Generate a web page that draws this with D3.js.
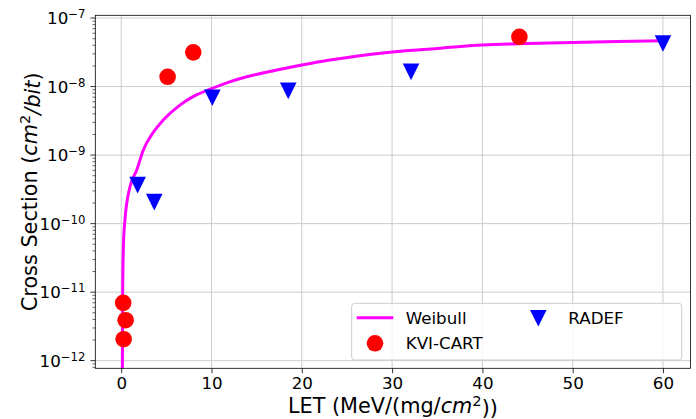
<!DOCTYPE html>
<html>
<head>
<meta charset="utf-8">
<script src="https://cdn.jsdelivr.net/npm/d3@7"></script>
<style>
  body { margin: 0; background: #fff; }
  text { font-family: "DejaVu Sans", sans-serif; fill: #000; }
</style>
</head>
<body>
<div id="graph"></div>
<script>

// KVI-CART measurements (LET, cross section)
var kviLet = [0.22, 0.49, 0.27, 5.14, 7.98, 44.1];
var kviXs = [6.98e-12, 3.9e-12, 2.06e-12, 1.39e-8, 3.16e-8, 5.33e-8];

// RADEF measurements
var radefLet = [1.82, 3.66, 10.09, 18.5, 32.1, 60];
var radefXs = [3.65e-10, 2.06e-10, 6.87e-9, 8.65e-9, 1.64e-8, 4.26e-8];

// weibull fit, points
var weibullLet = [0.13, 0.16, 0.25, 0.41, 0.96, 1.71, 2.44, 3.5, 4.65, 6.5, 8, 10, 12, 13.9,
                  17, 20, 23.1, 26, 30, 35, 40, 45, 50, 55, 60];
var weibullXs = [5e-13, 1e-11, 5e-11, 1.12e-10, 3.4e-10, 6.0e-10, 1.18e-9, 2.1e-9, 3.24e-9, 5.37e-9,
                 7.2e-9, 9.3e-9, 1.17e-8, 1.39e-8, 1.72e-8, 2.06e-8, 2.44e-8, 2.78e-8, 3.2e-8,
                 3.6e-8, 4.03e-8, 4.25e-8, 4.41e-8, 4.55e-8, 4.68e-8];

// tick values
var xTicks = [0, 10, 20, 30, 40, 50, 60];
var yExps = [-12, -11, -10, -9, -8, -7];

function initChart() {

    var svg = d3.select("#graph").append("svg")
        .attr("width", 696)
        .attr("height", 419);

    var margin = {top: 15.3, right: 5.5, bottom: 50.7, left: 95.3},
        width = 696 - margin.left - margin.right,
        height = 419 - margin.top - margin.bottom;

    var g = svg.append("g")
        .attr("transform", "translate(" + margin.left + "," + margin.top + ")");

    // scales
    var x = d3.scaleLinear().domain([-2.87, 63.05]).range([0, width]),
        y = d3.scaleLog().domain([Math.pow(10, -12.111), Math.pow(10, -6.96)]).range([height, 0]);

    // clip for the curve
    svg.append("defs").append("clipPath").attr("id", "clip")
        .append("rect").attr("width", width).attr("height", height);

    // grid lines
    var grid = g.append("g").attr("class", "grid");
    grid.selectAll(".gx").data(xTicks).enter().append("line")
        .attr("x1", function(d) { return x(d); })
        .attr("x2", function(d) { return x(d); })
        .attr("y1", 0).attr("y2", height)
        .attr("stroke", "#cccccc").attr("stroke-width", 1);
    grid.selectAll(".gy").data(yExps).enter().append("line")
        .attr("x1", 0).attr("x2", width)
        .attr("y1", function(d) { return y(Math.pow(10, d)); })
        .attr("y2", function(d) { return y(Math.pow(10, d)); })
        .attr("stroke", "#cccccc").attr("stroke-width", 1);

    // weibull curve
    var line = d3.line()
        .curve(d3.curveMonotoneX)
        .x(function(d) { return x(d[0]); })
        .y(function(d) { return y(d[1]); });

    g.append("path")
        .datum(d3.zip(weibullLet, weibullXs))
        .attr("clip-path", "url(#clip)")
        .attr("d", line)
        .attr("fill", "none")
        .attr("stroke", "#ff00ff")
        .attr("stroke-width", 3);

    // scatter points
    g.selectAll(".kvi").data(d3.zip(kviLet, kviXs)).enter().append("circle")
        .attr("cx", function(d) { return x(d[0]); })
        .attr("cy", function(d) { return y(d[1]); })
        .attr("r", 8.3)
        .attr("fill", "#ff0000");

    var tri = "M-8.3,-8.3L8.3,-8.3L0,8.3Z";
    g.selectAll(".radef").data(d3.zip(radefLet, radefXs)).enter().append("path")
        .attr("transform", function(d) { return "translate(" + x(d[0]) + "," + y(d[1]) + ")"; })
        .attr("d", tri)
        .attr("fill", "#0000ff");

    // x axis
    var xAxis = g.append("g")
        .attr("transform", "translate(0," + height + ")")
        .call(d3.axisBottom(x).tickValues(xTicks).tickSize(4.9).tickPadding(3.5).tickFormat(d3.format("d")));
    xAxis.select(".domain").remove();
    xAxis.selectAll("text").style("font-size", "16.7px").style("font-family", "DejaVu Sans");
    xAxis.selectAll("line").attr("stroke", "#000").attr("stroke-width", 0.8);

    // y axis, major and minor ticks
    var yMajor = yExps.map(function(e) { return Math.pow(10, e); });
    var yMinor = [];
    for (var e = -13; e <= -7; e++) {
        for (var k = 2; k <= 9; k++) {
            var v = k * Math.pow(10, e);
            if (v >= y.domain()[0] && v <= y.domain()[1]) yMinor.push(v);
        }
    }
    var yAxis = g.append("g");
    yAxis.selectAll(".minor").data(yMinor).enter().append("line")
        .attr("x1", -2.8).attr("x2", 0)
        .attr("y1", function(d) { return y(d); })
        .attr("y2", function(d) { return y(d); })
        .attr("stroke", "#000").attr("stroke-width", 0.6);
    yAxis.selectAll(".major").data(yMajor).enter().append("line")
        .attr("x1", -4.9).attr("x2", 0)
        .attr("y1", function(d) { return y(d); })
        .attr("y2", function(d) { return y(d); })
        .attr("stroke", "#000").attr("stroke-width", 0.8);
    var lab = yAxis.selectAll(".lab").data(yExps).enter().append("text")
        .attr("x", -9.8)
        .attr("y", function(d) { return y(Math.pow(10, d)) + 6; })
        .attr("text-anchor", "end")
        .style("font-size", "16.7px");
    lab.append("tspan").text("10");
    lab.append("tspan")
        .attr("dy", "-0.5em")
        .style("font-size", "11.7px")
        .text(function(d) { return "\u2212" + Math.abs(d); });

    // frame
    g.append("rect")
        .attr("width", width).attr("height", height)
        .attr("fill", "none").attr("stroke", "#000").attr("stroke-width", 0.8);

    // axis labels
    var xl = svg.append("text")
        .attr("x", margin.left + width / 2)
        .attr("y", 412.5)
        .attr("text-anchor", "middle")
        .style("font-size", "20.8px");
    xl.append("tspan").text("LET (MeV/(mg/");
    xl.append("tspan").style("font-style", "italic").text("cm");
    xl.append("tspan").attr("dy", "-0.45em").style("font-size", "14.6px").text("2");
    xl.append("tspan").attr("dy", "0.45em").text("))");

    var yl = svg.append("text")
        .attr("transform", "translate(37," + (margin.top + height / 2) + ") rotate(-90)")
        .attr("text-anchor", "middle")
        .style("font-size", "20.8px");
    yl.append("tspan").text("Cross Section (");
    yl.append("tspan").style("font-style", "italic").text("cm");
    yl.append("tspan").attr("dy", "-0.45em").style("font-size", "14.6px").text("2");
    yl.append("tspan").attr("dy", "0.45em").style("font-style", "italic").text("/bit");
    yl.append("tspan").text(")");

    // legend
    var leg = svg.append("g").attr("transform", "translate(351.7,303.3)");
    leg.append("rect")
        .attr("width", 330).attr("height", 56.7).attr("rx", 3)
        .attr("fill", "#fff").attr("fill-opacity", 0.8)
        .attr("stroke", "#cccccc").attr("stroke-width", 1);
    leg.append("line")
        .attr("x1", 5).attr("x2", 41.6).attr("y1", 14.4).attr("y2", 14.4)
        .attr("stroke", "#ff00ff").attr("stroke-width", 3);
    leg.append("circle").attr("cx", 23.3).attr("cy", 40).attr("r", 8.3).attr("fill", "#ff0000");
    leg.append("path").attr("transform", "translate(186.6,15)").attr("d", tri).attr("fill", "#0000ff");
    leg.selectAll(".lt").data([["Weibull", 54, 14.4], ["KVI-CART", 54, 40], ["RADEF", 216.6, 14.4]])
        .enter().append("text")
        .attr("x", function(d) { return d[1]; })
        .attr("y", function(d) { return d[2] + 6; })
        .style("font-size", "16.7px")
        .text(function(d) { return d[0]; });
};

initChart();
</script>
</body>
</html>
